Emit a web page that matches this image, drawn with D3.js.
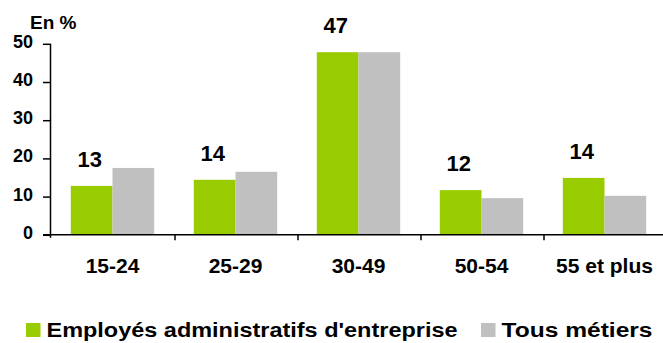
<!DOCTYPE html>
<html><head><meta charset="utf-8">
<script src="https://cdn.jsdelivr.net/npm/d3@7"></script>
<style>body{margin:0;background:#fff}svg{display:block}text{font-family:"Liberation Sans",Arial,sans-serif;font-weight:bold;fill:#000}</style>
</head><body>
<script>
const categories = ["15-24","25-29","30-49","50-54","55 et plus"];
const seriesNames = ["Employés administratifs d'entreprise","Tous métiers"];
const employes = [12.8, 14.4, 47.8, 11.7, 14.9];
const tous = [17.5, 16.5, 47.8, 9.6, 10.2];
const valueLabels = ["13","14","47","12","14"];
const yTicks = [0,10,20,30,40,50];
const colors = ["#99CC00","#C0C0C0"];

const W=663,H=343;
const svg=d3.select("body").append("svg").attr("width",W).attr("height",H);
const x=d3.scaleBand().domain(categories).range([52,667]).paddingInner(0).paddingOuter(0);
const xs=d3.scaleBand().domain([0,1]).range([0,x.bandwidth()]).paddingOuter(0.475).paddingInner(0);
const y=d3.scaleLinear().domain([0,50]).range([234.8,43.8]);

const data=categories.map((c,i)=>({c,vals:[employes[i],tous[i]],lab:valueLabels[i]}));
const g=svg.append("g").selectAll("g").data(data).join("g").attr("transform",d=>`translate(${x(d.c)-1},0)`);
g.selectAll("rect").data(d=>d.vals.map((v,k)=>({v,k}))).join("rect")
 .attr("x",d=>xs(d.k)).attr("width",xs.bandwidth())
 .attr("y",d=>y(d.v)).attr("height",d=>y(0)-y(d.v))
 .attr("fill",d=>colors[d.k]);
g.append("text").attr("x",xs(0)+xs.bandwidth()/2-2).attr("y",d=>y(d.vals[0])-19)
 .attr("text-anchor","middle").style("font-size","22px").text(d=>d.lab);

// y axis
const ya=svg.append("g").attr("transform","translate(50.5,0)")
 .call(d3.axisLeft(y).tickValues(yTicks).tickSize(7.5).tickPadding(10).tickSizeOuter(0));
ya.select(".domain").attr("stroke","#000").attr("stroke-width",1.5).attr("d",`M0,${y(50)}V${y(0)+3}`);
ya.selectAll(".tick line").attr("stroke","#000").attr("stroke-width",1.5);
ya.selectAll("text").style("font-size","18px").attr("font-family",null).attr("dy","0.19em");
svg.append("text").attr("x",30).attr("y",29).style("font-size","19px").text("En %");

// x axis
const xa=svg.append("g").attr("transform",`translate(0,${y(0)})`);
xa.append("line").attr("x1",43).attr("x2",663).attr("stroke","#000").attr("stroke-width",1.5);
xa.selectAll(".sep").data(categories.slice(1)).join("line").attr("class","sep")
 .attr("x1",d=>x(d)).attr("x2",d=>x(d)).attr("y1",0).attr("y2",5.5).attr("stroke","#000").attr("stroke-width",1.5);
svg.append("g").selectAll("text").data(categories).join("text")
 .attr("x",d=>x(d)+x.bandwidth()/2-1).attr("y",273).attr("text-anchor","middle")
 .style("font-size","21px").text(d=>d);

// legend
const leg=svg.append("g");
const lx=[26,481], lw=[411,151];
seriesNames.forEach((n,k)=>{
 leg.append("rect").attr("x",lx[k]).attr("y",323).attr("width",14.5).attr("height",14).attr("fill",colors[k]);
 leg.append("text").attr("x",lx[k]+20.5).attr("y",337).style("font-size","20px")
  .attr("textLength",lw[k]).attr("lengthAdjust","spacingAndGlyphs").text(n);
});
</script>
</body></html>
